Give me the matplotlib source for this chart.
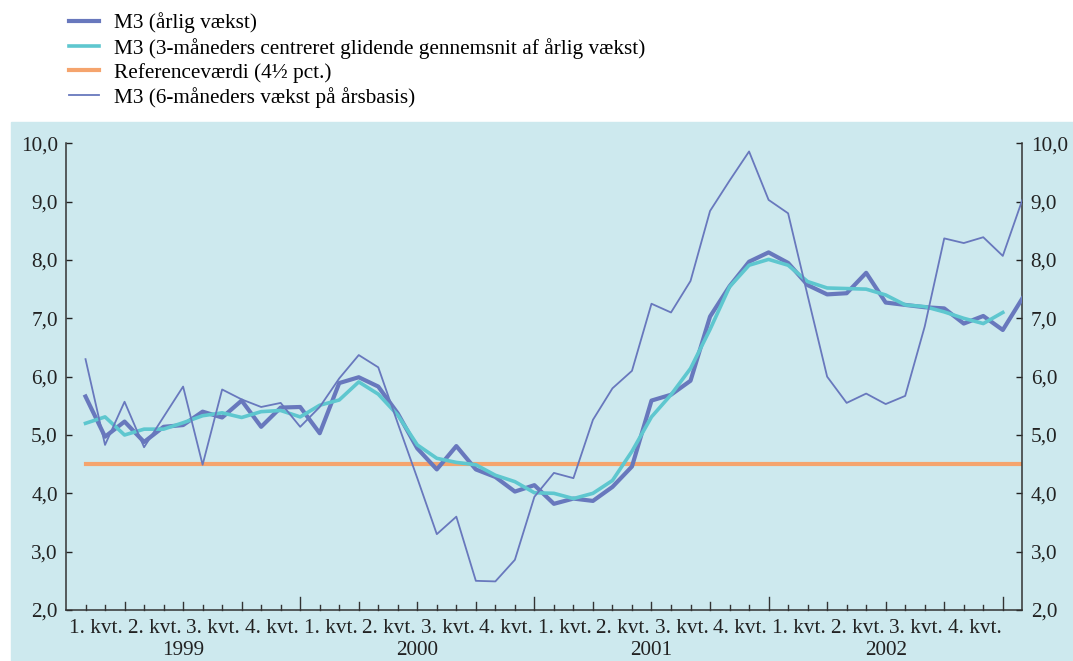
import matplotlib.pyplot as plt
from matplotlib.patches import Rectangle

plt.rcParams['font.family'] = ['Liberation Serif', 'DejaVu Serif']

# monthly observations, Jan 1999 .. Jan 2003
m3_annual = [5.66, 4.97, 5.23, 4.88, 5.14, 5.17, 5.40, 5.30, 5.59, 5.14, 5.47, 5.48,
             5.03, 5.89, 5.99, 5.83, 5.37, 4.77, 4.41, 4.81, 4.41, 4.28, 4.03, 4.14,
             3.82, 3.91, 3.87, 4.11, 4.46, 5.59, 5.69, 5.93, 7.03, 7.55, 7.97, 8.13,
             7.95, 7.57, 7.41, 7.43, 7.78, 7.27, 7.23, 7.19, 7.17, 6.91, 7.04, 6.80,
             7.34]
m3_centered = [5.20, 5.31, 5.00, 5.10, 5.10, 5.21, 5.33, 5.38, 5.30, 5.40, 5.42, 5.31,
               5.51, 5.60, 5.91, 5.70, 5.34, 4.83, 4.60, 4.53, 4.49, 4.31, 4.20, 4.01,
               4.00, 3.91, 4.00, 4.22, 4.72, 5.31, 5.69, 6.14, 6.81, 7.54, 7.91, 8.01,
               7.91, 7.63, 7.52, 7.51, 7.50, 7.40, 7.23, 7.20, 7.11, 7.00, 6.91, 7.10]
m3_6m = [6.30, 4.83, 5.57, 4.79, 5.31, 5.83, 4.49, 5.78, 5.61, 5.48, 5.55, 5.14,
         5.48, 5.97, 6.37, 6.16, 5.20, 4.26, 3.30, 3.60, 2.50, 2.49, 2.86, 3.94,
         4.35, 4.26, 5.26, 5.80, 6.10, 7.25, 7.10, 7.64, 8.84, 9.36, 9.86, 9.03,
         8.80, 7.39, 6.00, 5.55, 5.71, 5.53, 5.67, 6.86, 8.37, 8.29, 8.39, 8.07,
         9.03]
reference = 4.5

years = ['1999', '2000', '2001', '2002']
quarters = ['1. kvt.', '2. kvt.', '3. kvt.', '4. kvt.']
labels = ['M3 (årlig vækst)',
          'M3 (3-måneders centreret glidende gennemsnit af årlig vækst)',
          'Referenceværdi (4½ pct.)',
          'M3 (6-måneders vækst på årsbasis)']

blue = '#6878bd'
cyan = '#5ec7cf'
orange = '#f5a46d'
panel = '#cde9ee'
fs = 15.3

fig = plt.figure(figsize=(10.73, 6.61), dpi=100)
fig.patches.append(Rectangle((11 / 1073, 0), 1 - 11 / 1073, 1 - 122 / 661,
                             transform=fig.transFigure, color=panel, zorder=-5))

ax = fig.add_axes([66 / 1073, 1 - 610 / 661, (1022.3 - 66) / 1073, (610 - 143.3) / 661])
ax.set_facecolor(panel)

n = len(m3_6m)
x_all = list(range(n))
l1, = ax.plot(range(len(m3_annual)), m3_annual, color=blue, lw=3.0, zorder=3)
l2, = ax.plot(range(len(m3_centered)), m3_centered, color=cyan, lw=2.6, zorder=4)
l3, = ax.plot(x_all, [reference] * n, color=orange, lw=3.0, zorder=2)
l4, = ax.plot(x_all, m3_6m, color=blue, lw=1.3, zorder=5)

ax.set_xlim(-1, 48)
ax.set_ylim(2, 10)
ax.set_yticks(range(2, 11))
ax.set_yticklabels([f'{v},0' for v in range(2, 11)], fontsize=fs)
ax.tick_params(axis='y', direction='in', length=4, width=1, left=True, right=True,
               labelleft=True, labelright=True, pad=6, colors='#222222')

for s in ['left', 'right', 'bottom']:
    ax.spines[s].set_color('#333333')
    ax.spines[s].set_linewidth(1.1)
ax.spines['top'].set_visible(False)

# month ticks, longer at quarter ends, longest at year ends
ax.set_xticks([])
for m in range(48):
    if m % 12 == 11:
        h = 0.22
    elif m % 3 == 2:
        h = 0.14
    else:
        h = 0.08
    ax.plot([m, m], [2, 2 + h], color='#333333', lw=1, clip_on=False, zorder=6)

for y, year in enumerate(years):
    for q, qlab in enumerate(quarters):
        ax.text(12 * y + 3 * q + 0.55, 1.68, qlab, ha='center', va='center', fontsize=fs,
                color='#222222')
    ax.text(12 * y + 5, 1.3, year, ha='center', va='center', fontsize=fs, color='#222222')

fig.legend([l1, l2, l3, l4], labels, loc='upper left', bbox_to_anchor=(60 / 1073, 1 - 4 / 661),
           frameon=False, fontsize=fs, handlelength=1.45, handletextpad=0.7,
           labelspacing=0.2, borderaxespad=0)

fig.savefig('out.png', dpi=100)
